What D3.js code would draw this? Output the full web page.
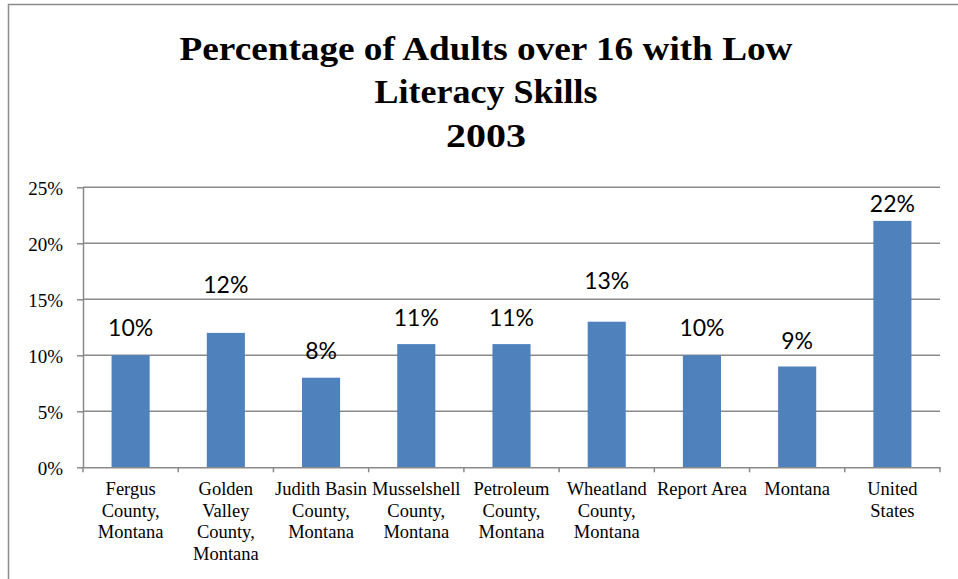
<!DOCTYPE html>
<html>
<head>
<meta charset="utf-8">
<script src="https://cdn.jsdelivr.net/npm/d3@7"></script>
<style>
  html, body { margin: 0; padding: 0; background: #ffffff; }
  svg { display: block; }
</style>
</head>
<body>
<svg id="chart" width="958" height="579"></svg>
<script>
// Share of adults (16+) with low literacy skills, 2003
const titleLines = ["Percentage of Adults over 16 with Low", "Literacy Skills", "2003"];
const categories = [
  "Fergus\nCounty,\nMontana",
  "Golden\nValley\nCounty,\nMontana",
  "Judith Basin\nCounty,\nMontana",
  "Musselshell\nCounty,\nMontana",
  "Petroleum\nCounty,\nMontana",
  "Wheatland\nCounty,\nMontana",
  "Report Area",
  "Montana",
  "United\nStates"
];
const values = [0.10, 0.12, 0.08, 0.11, 0.11, 0.13, 0.10, 0.09, 0.22];
const yTicks = [0, 0.05, 0.10, 0.15, 0.20, 0.25];

// Layout
const W = 958, H = 579;
const plot = { left: 83, right: 940, top: 187.3, bottom: 467.3 };
const serif = "'Liberation Serif', 'Times New Roman', serif";
const gridColor = "#8a8a8a";
const barColor = "#4f81bd";
// Rendered width of each title line (px)
const titleWidths = [613, 223, 80];
// Distance (px) from bar top to the value label's baseline, per bar
const labelGap = [19, 40, 19, 18, 18, 33, 19, 18, 9];

const svg = d3.select("#chart");

// Outer chart frame
svg.append("rect")
  .attr("x", 8.5).attr("y", 4.5)
  .attr("width", W + 10).attr("height", H + 10)
  .attr("fill", "#ffffff")
  .attr("stroke", "#8c8c8c")
  .attr("stroke-width", 1.5);

// Title
const title = svg.append("g")
  .attr("font-family", serif)
  .attr("font-weight", "bold")
  .attr("font-size", 33)
  .attr("fill", "#000")
  .attr("text-anchor", "middle");
titleLines.forEach((t, i) => {
  title.append("text")
    .attr("x", 486)
    .attr("y", 59.5 + i * 43.5)
    .attr("textLength", titleWidths[i])
    .attr("lengthAdjust", "spacingAndGlyphs")
    .text(t);
});

const x = d3.scaleBand()
  .domain(categories)
  .range([plot.left, plot.right])
  .paddingInner(0.6)
  .paddingOuter(0.3);

const y = d3.scaleLinear()
  .domain([0, 0.25])
  .range([plot.bottom, plot.top]);

// Horizontal gridlines
svg.append("g")
  .selectAll("line")
  .data(yTicks.filter(d => d > 0))
  .join("line")
  .attr("x1", plot.left).attr("x2", plot.right)
  .attr("y1", d => y(d)).attr("y2", d => y(d))
  .attr("stroke", gridColor)
  .attr("stroke-width", 1.5);

// Y axis
const yAxis = svg.append("g")
  .attr("transform", `translate(${plot.left},0)`)
  .call(d3.axisLeft(y)
    .tickValues(yTicks)
    .tickFormat(d3.format(".0%"))
    .tickSize(6)
    .tickSizeOuter(0)
    .tickPadding(14));
yAxis.selectAll("path, line").attr("stroke", gridColor).attr("stroke-width", 1.5);
yAxis.attr("font-family", serif).attr("font-size", 19);
yAxis.selectAll("text")
  .attr("fill", "#000")
  .attr("dy", "0.36em");

// Bars
svg.append("g")
  .selectAll("rect")
  .data(values)
  .join("rect")
  .attr("x", (d, i) => x(categories[i]))
  .attr("y", d => y(d))
  .attr("width", x.bandwidth())
  .attr("height", d => y(0) - y(d))
  .attr("fill", barColor);

// X axis line with ticks on category boundaries
const xAxis = svg.append("g")
  .attr("transform", `translate(0,${plot.bottom})`)
  .call(d3.axisBottom(x).tickSize(0).tickSizeOuter(0).tickFormat(""));
xAxis.selectAll("path").attr("stroke", gridColor).attr("stroke-width", 1.5);
xAxis.selectAll(".tick").remove();
xAxis.selectAll("line.boundary")
  .data(d3.range(categories.length + 1))
  .join("line")
  .attr("class", "boundary")
  .attr("x1", i => plot.left + i * x.step())
  .attr("x2", i => plot.left + i * x.step())
  .attr("y1", 0).attr("y2", 5)
  .attr("stroke", gridColor)
  .attr("stroke-width", 1.5);

// Category labels
const catLabels = svg.append("g")
  .attr("font-family", serif)
  .attr("font-size", 18.5)
  .attr("fill", "#000")
  .attr("text-anchor", "middle");
categories.forEach(c => {
  const t = catLabels.append("text");
  const cx = x(c) + x.bandwidth() / 2;
  c.split("\n").forEach((line, j) => {
    t.append("tspan").attr("x", cx).attr("y", 495 + j * 21.5).text(line);
  });
});

// Value labels
svg.append("g")
  .selectAll("text")
  .data(values)
  .join("text")
  .attr("x", (d, i) => x(categories[i]) + x.bandwidth() / 2)
  .attr("y", (d, i) => y(d) - labelGap[i])
  .attr("text-anchor", "middle")
  .attr("font-family", "Lato, 'Open Sans', sans-serif")
  .attr("font-size", 23)
  .attr("fill", "#000")
  .text(d => d3.format(".0%")(d));
</script>
</body>
</html>
